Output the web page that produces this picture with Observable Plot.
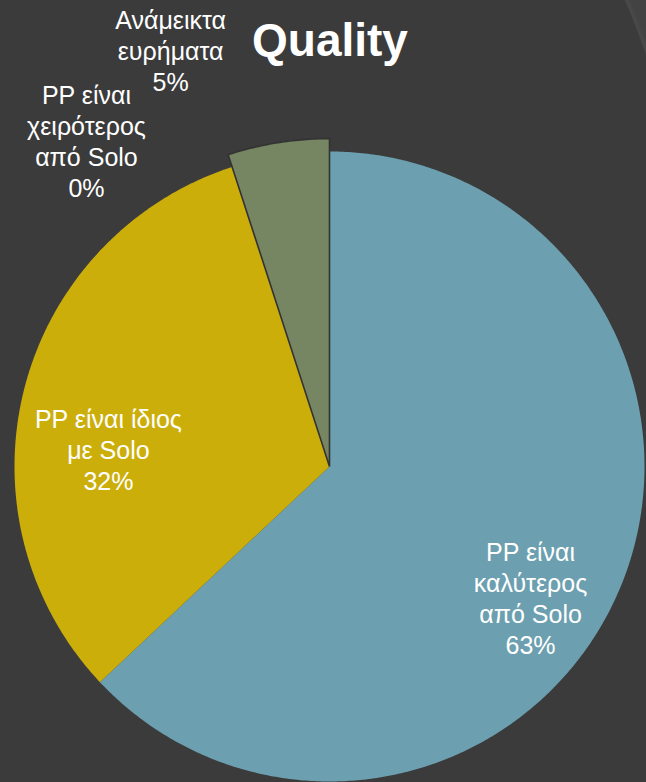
<!DOCTYPE html>
<html>
<head>
<meta charset="utf-8">
<script src="https://cdn.jsdelivr.net/npm/d3@7"></script>
<script src="https://cdn.jsdelivr.net/npm/@observablehq/plot@0.6"></script>
<style>
  html, body { margin: 0; padding: 0; background: #3b3b3b; }
  #wrap { position: relative; width: 646px; height: 782px; overflow: hidden; background: #3b3b3b; }
  #swoosh { position: absolute; left: 560px; top: 0; width: 86px; height: 120px;
            background: radial-gradient(circle 700px at -576px 279px, #3b3b3b 698px, #4a4a4a 700px, #434343 704px); }
  #title { position: absolute; left: 0; width: 660px; top: 17px; text-align: center;
           font-family: "Liberation Sans", Arial, sans-serif; font-weight: bold; font-size: 46px;
           color: #ffffff; line-height: 1; }
  #chart { position: absolute; left: 0; top: 0; }
</style>
</head>
<body>
<div id="wrap">
  <div id="swoosh"></div>
  <div id="chart"></div>
  <div id="title">Quality</div>
</div>
<script>
// ---- data ----
const categories = [
  "PP είναι καλύτερος από Solo",
  "PP είναι ίδιος με Solo",
  "PP είναι χειρότερος από Solo",
  "Ανάμεικτα ευρήματα"
];
const labelText = [
  "PP είναι\nκαλύτερος\nαπό Solo",
  "PP είναι ίδιος\nμε Solo",
  "PP είναι\nχειρότερος\nαπό Solo",
  "Ανάμεικτα\nευρήματα"
];
const values = [63, 32, 0, 5];

// ---- layout / style ----
const colors = ["#6c9faf", "#ccae0b", "#888888", "#768562"];
const sliceRadius = [1, 1, 1, 1.041];          // the last slice is drawn slightly larger
const labelAngle = [123.1, 274.4, 323.3, 339.1];  // degrees clockwise from 12 o'clock
const labelRadius = [0.762, 0.704, 1.291, 1.414]; // in units of pie radius
const cx = 329, cy = 466, R = 315;

const total = d3.sum(values);
const pie = d3.pie().sort(null).value(d => d)(values);

const slicePts = [];
pie.forEach((a, i) => {
  if (values[i] === 0) return;
  const r = sliceRadius[i];
  const a0 = a.startAngle, a1 = a.endAngle;
  slicePts.push({cat: categories[i], x: 0, y: 0});
  const n = Math.max(2, Math.ceil((a1 - a0) / (Math.PI / 360)));
  for (let k = 0; k <= n; k++) {
    const t = a0 + (a1 - a0) * k / n;
    slicePts.push({cat: categories[i], x: r * Math.sin(t), y: r * Math.cos(t)});
  }
});

const labels = categories.map((c, i) => {
  const t = labelAngle[i] * Math.PI / 180;
  return {
    cat: c,
    text: labelText[i] + "\n" + Math.round(values[i] / total * 100) + "%",
    x: labelRadius[i] * Math.sin(t),
    y: labelRadius[i] * Math.cos(t)
  };
});

const plot = Plot.plot({
  width: 646,
  height: 782,
  margin: 0,
  style: {background: "transparent", fontFamily: "\"Liberation Sans\", Arial, sans-serif"},
  x: {domain: [-1, 1], range: [cx - R, cx + R], axis: null},
  y: {domain: [-1, 1], range: [cy + R, cy - R], axis: null},
  color: {domain: categories, range: colors},
  marks: [
    Plot.line(slicePts.filter(d => d.cat !== categories[3]), {
      x: "x", y: "y", z: "cat", fill: "cat", stroke: null, curve: "linear-closed"
    }),
    Plot.line(slicePts.filter(d => d.cat === categories[3]), {
      x: "x", y: "y", z: "cat", fill: "cat", stroke: "#333333", strokeWidth: 1.6,
      strokeLinejoin: "miter", curve: "linear-closed"
    }),
    Plot.text(labels, {
      x: "x", y: "y", text: "text", fill: "#ffffff", fontSize: 25, lineHeight: 1.24,
      textAnchor: "middle"
    })
  ]
});
document.getElementById("chart").appendChild(plot);
</script>
</body>
</html>
